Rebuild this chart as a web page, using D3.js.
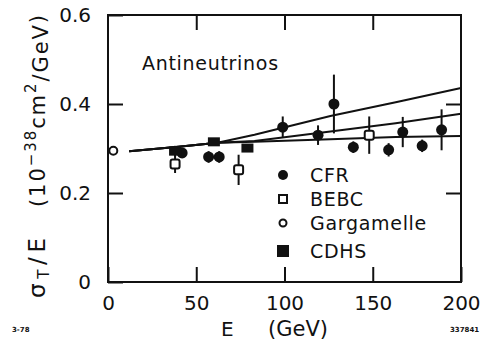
<!DOCTYPE html>
<html>
<head>
<meta charset="utf-8">
<script src="https://d3js.org/d3.v7.min.js"></script>
<style>
  body { margin: 0; background: #fff; }
  svg { font-family: "DejaVu Sans", sans-serif; }
  .tick text { font-size: 20px; fill: #111; font-family: "DejaVu Sans", sans-serif; }
  .tick line { stroke: #111; stroke-width: 2; }
  .theory { fill: none; stroke: #111; stroke-width: 2; }
  .lbl { font-size: 19px; letter-spacing: 0.7px; fill: #111; }
</style>
</head>
<body>
<div id="chart"></div>
<script>
const svgWidth = 490,
    svgHeight = 349,
    margin = { top: 15, right: 29, bottom: 67, left: 108 },
    width = svgWidth - margin.left - margin.right,
    height = svgHeight - margin.top - margin.bottom;

// data
const xTicks = [0, 50, 100, 150, 200];
const yTicks = [0, 0.2, 0.4, 0.6];
const yTickLabels = ["0", "0.2", "0.4", "0.6"];

const energyCFR = [42, 57, 63, 99, 119, 128, 139, 159, 167, 178, 189];
const sigmaCFR = [0.290, 0.281, 0.281, 0.348, 0.330, 0.400, 0.303, 0.297, 0.337, 0.306, 0.342];
const errCFR = [0.010, 0.013, 0.013, 0.024, 0.022, 0.066, 0.013, 0.015, 0.034, 0.014, 0.046];

const energyCDHS = [38, 60, 79];
const sigmaCDHS = [0.294, 0.315, 0.301];
const errCDHS = [0.012, 0.008, 0.008];

const energyBEBC = [38, 74, 148];
const sigmaBEBC = [0.265, 0.252, 0.330];
const errBEBC = [0.020, 0.034, 0.042];

const energyGGM = [3];
const sigmaGGM = [0.295];

const theoryE = [12, 40, 62, 83, 126, 163, 200];
const theoryUpper = [0.294, 0.304, 0.313, 0.331, 0.373, 0.404, 0.436];
const theoryMiddle = [0.294, 0.304, 0.313, 0.317, 0.338, 0.357, 0.378];
const theoryLower = [0.294, 0.304, 0.313, 0.315, 0.321, 0.326, 0.328];

const legendNames = ["CFR", "BEBC", "Gargamelle", "CDHS"];

let svg = d3.select("#chart").append("svg")
    .attr("width", svgWidth)
    .attr("height", svgHeight);
let g = svg.append("g")
    .attr("transform", "translate(" + margin.left + "," + margin.top + ")");

let xScale = d3.scaleLinear().domain([0, 200]).range([0, width]);
let yScale = d3.scaleLinear().domain([0, 0.6]).range([height, 0]);

// axes, ticks point inward
g.append("g")
    .attr("transform", `translate(0, ${height})`)
    .call(d3.axisBottom(xScale).tickValues(xTicks).tickSizeInner(-15).tickSizeOuter(0).tickPadding(14))
    .call((a) => a.select(".domain").remove());
g.append("g")
    .call(d3.axisTop(xScale).tickValues([50, 100, 150]).tickSizeInner(-15).tickSizeOuter(0).tickFormat(""))
    .call((a) => a.select(".domain").remove());
g.append("g")
    .call(d3.axisLeft(yScale).tickValues(yTicks).tickSizeInner(-15).tickSizeOuter(0).tickPadding(17)
        .tickFormat((d, i) => yTickLabels[i]))
    .call((a) => a.select(".domain").remove());
g.append("g")
    .attr("transform", `translate(${width}, 0)`)
    .call(d3.axisRight(yScale).tickValues([0.2, 0.4]).tickSizeInner(-15).tickSizeOuter(0).tickFormat(""))
    .call((a) => a.select(".domain").remove());

// frame
g.append("rect")
    .attr("width", width)
    .attr("height", height)
    .attr("fill", "none")
    .attr("stroke", "#111")
    .attr("stroke-width", 2);

// theory curves
let line = d3.line()
    .x((d) => xScale(d[0]))
    .y((d) => yScale(d[1]));
[theoryUpper, theoryMiddle, theoryLower].forEach((vals) => {
    g.append("path")
        .attr("class", "theory")
        .attr("d", line(theoryE.map((e, i) => [e, vals[i]])));
});

// error bars
function errorBars(es, vs, errs) {
    g.append("g").selectAll("line")
        .data(es.map((e, i) => [e, vs[i], errs[i]]))
        .join("line")
        .attr("x1", (d) => xScale(d[0]))
        .attr("x2", (d) => xScale(d[0]))
        .attr("y1", (d) => yScale(d[1] - d[2]))
        .attr("y2", (d) => yScale(d[1] + d[2]))
        .attr("stroke", "#111")
        .attr("stroke-width", 2);
}
errorBars(energyCFR, sigmaCFR, errCFR);
errorBars(energyCDHS, sigmaCDHS, errCDHS);
errorBars(energyBEBC, sigmaBEBC, errBEBC);

// markers
g.append("g").selectAll("circle")
    .data(energyCFR.map((e, i) => [e, sigmaCFR[i]]))
    .join("circle")
    .attr("cx", (d) => xScale(d[0]))
    .attr("cy", (d) => yScale(d[1]))
    .attr("r", 5.5)
    .attr("fill", "#111");
g.append("g").selectAll("rect")
    .data(energyCDHS.map((e, i) => [e, sigmaCDHS[i]]))
    .join("rect")
    .attr("x", (d) => xScale(d[0]) - 6)
    .attr("y", (d) => yScale(d[1]) - 4.5)
    .attr("width", 12)
    .attr("height", 9)
    .attr("fill", "#111");
g.append("g").selectAll("rect")
    .data(energyBEBC.map((e, i) => [e, sigmaBEBC[i]]))
    .join("rect")
    .attr("x", (d) => xScale(d[0]) - 4.5)
    .attr("y", (d) => yScale(d[1]) - 4.5)
    .attr("width", 9)
    .attr("height", 9)
    .attr("rx", 2)
    .attr("fill", "#fff")
    .attr("stroke", "#111")
    .attr("stroke-width", 2);
g.append("g").selectAll("circle")
    .data(energyGGM.map((e, i) => [e, sigmaGGM[i]]))
    .join("circle")
    .attr("cx", (d) => xScale(d[0]))
    .attr("cy", (d) => yScale(d[1]))
    .attr("r", 4)
    .attr("fill", "#fff")
    .attr("stroke", "#111")
    .attr("stroke-width", 2);

// legend
let legend = svg.append("g");
const legendY = [175, 199, 223, 251];
legendNames.forEach((name, i) => {
    let ly = legendY[i];
    if (i == 0) {
        legend.append("circle").attr("cx", 283).attr("cy", ly).attr("r", 5).attr("fill", "#111");
    } else if (i == 1) {
        legend.append("rect").attr("x", 279).attr("y", ly - 4).attr("width", 8).attr("height", 8)
            .attr("fill", "none").attr("stroke", "#111").attr("stroke-width", 2);
    } else if (i == 2) {
        legend.append("circle").attr("cx", 283).attr("cy", ly).attr("r", 3.5)
            .attr("fill", "none").attr("stroke", "#111").attr("stroke-width", 2);
    } else {
        legend.append("rect").attr("x", 277).attr("y", ly - 6).attr("width", 12).attr("height", 12).attr("fill", "#111");
    }
    legend.append("text")
        .attr("class", "lbl")
        .attr("x", 310)
        .attr("y", ly + 7)
        .text(name);
});

// title inside plot
svg.append("text")
    .attr("class", "lbl")
    .attr("x", 142)
    .attr("y", 70)
    .text("Antineutrinos");

// x label
svg.append("text")
    .attr("x", 221)
    .attr("y", 336)
    .attr("font-size", 20)
    .attr("fill", "#111")
    .text("E");
svg.append("text")
    .attr("x", 268)
    .attr("y", 336)
    .attr("font-size", 21)
    .attr("fill", "#111")
    .text("(GeV)");

// y label, rotated, two pieces
let yl1 = svg.append("text")
    .attr("transform", "translate(45, 298) rotate(-90)")
    .attr("font-size", 23)
    .attr("fill", "#111")
    .attr("textLength", 60)
    .attr("lengthAdjust", "spacing");
yl1.append("tspan").text("σ");
yl1.append("tspan").attr("font-size", 15).attr("dy", 4).text("T");
yl1.append("tspan").attr("dy", -4).text("/E");

let yl2 = svg.append("text")
    .attr("transform", "translate(45, 207) rotate(-90)")
    .attr("font-size", 21)
    .attr("fill", "#111")
    .attr("textLength", 192)
    .attr("lengthAdjust", "spacing");
yl2.append("tspan").text("(10");
yl2.append("tspan").attr("font-size", 15).attr("dy", -9).text("−38");
yl2.append("tspan").attr("dy", 9).text("cm");
yl2.append("tspan").attr("font-size", 15).attr("dy", -9).text("2");
yl2.append("tspan").attr("dy", 12).text("/GeV");
yl2.append("tspan").attr("dy", -3).text(")");

// plate numbers
svg.append("text")
    .attr("x", 12).attr("y", 332)
    .attr("font-size", 7).attr("font-weight", "bold").attr("fill", "#111")
    .text("3-78");
svg.append("text")
    .attr("x", 450).attr("y", 332)
    .attr("font-size", 7).attr("font-weight", "bold").attr("fill", "#111")
    .text("337841");
</script>
</body>
</html>
